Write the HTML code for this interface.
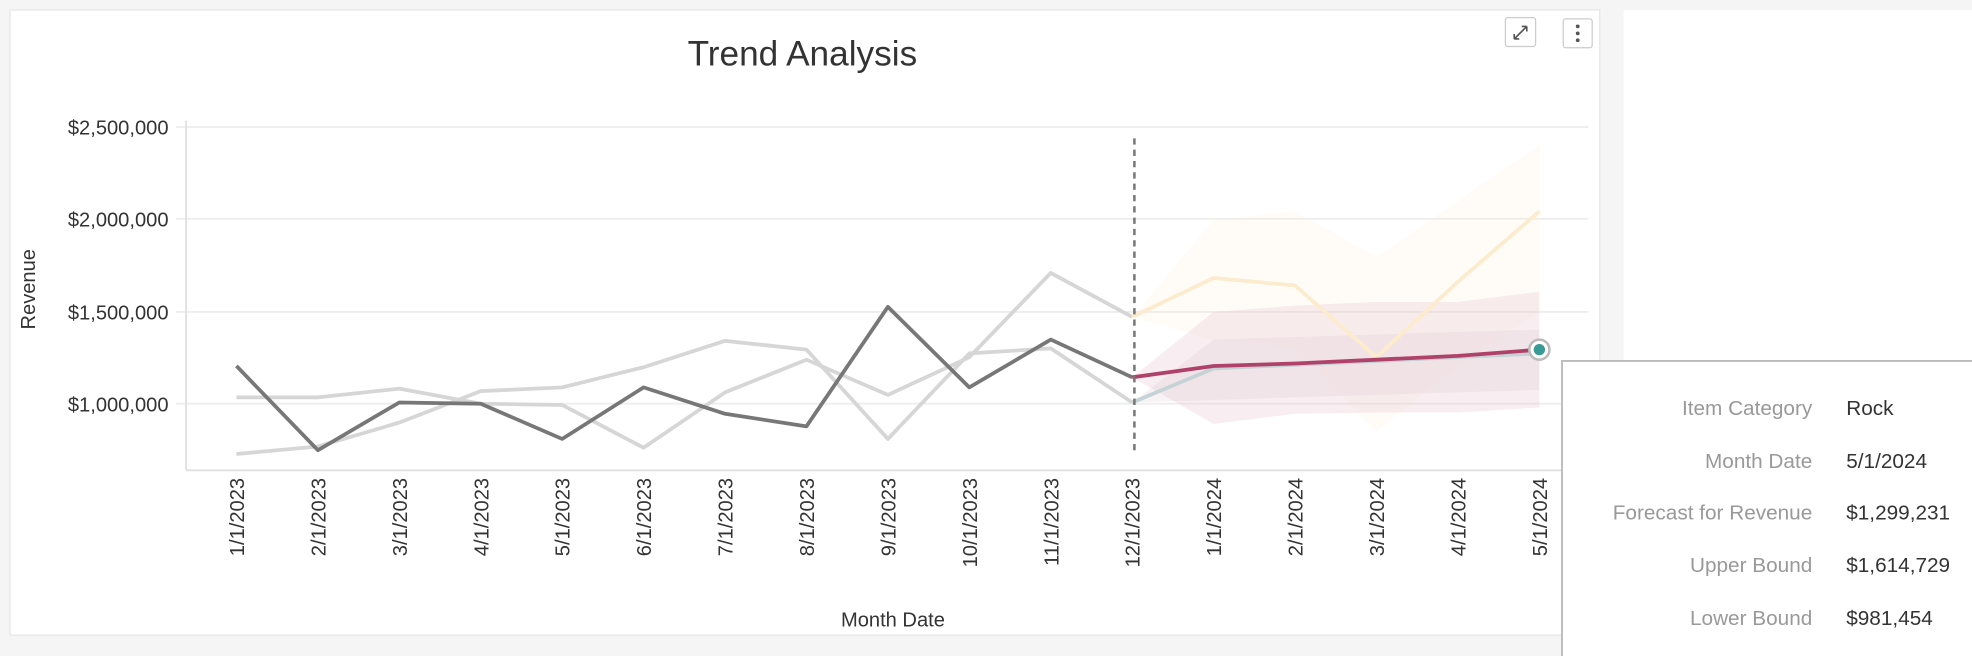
<!DOCTYPE html>
<html><head><meta charset="utf-8"><style>
html,body{margin:0;padding:0;background:#f5f5f5;}
svg{display:block;font-family:"Liberation Sans",sans-serif;}
</style></head><body>
<svg width="1972" height="656" viewBox="0 0 1568 521.6" preserveAspectRatio="none">
<rect x="0" y="0" width="1568" height="521.6" fill="#f5f5f5"/>
<rect x="1291" y="8" width="277" height="514" fill="#ffffff"/>
<rect x="8" y="8" width="1264" height="497" fill="#ffffff" stroke="#e6e6e6" stroke-width="1"/>
<text x="638" y="52" font-size="28" text-anchor="middle" fill="#333">Trend Analysis</text>
<rect x="1197" y="14" width="24" height="23" rx="2" fill="#fff" stroke="#ccc"/>
<path d="M1204 31 L1214 21 M1204 31 h4 M1204 31 v-4 M1214 21 h-4 M1214 21 v4" stroke="#555" stroke-width="1.3" fill="none"/>
<rect x="1243" y="15" width="23" height="23" rx="2" fill="#fff" stroke="#ccc"/>
<circle cx="1254.5" cy="21" r="1.5" fill="#555"/><circle cx="1254.5" cy="26.5" r="1.5" fill="#555"/><circle cx="1254.5" cy="32" r="1.5" fill="#555"/>
<g stroke="#eeeeee" stroke-width="1.5">
<line x1="140" y1="101" x2="1263" y2="101"/><line x1="140" y1="174" x2="1263" y2="174"/>
<line x1="140" y1="248" x2="1263" y2="248"/><line x1="140" y1="321" x2="1263" y2="321"/>
</g>
<line x1="148" y1="96" x2="148" y2="374" stroke="#e0e0e0" stroke-width="1.5"/>
<line x1="148" y1="374" x2="1263" y2="374" stroke="#e0e0e0" stroke-width="1.5"/>
<g font-size="16" fill="#333" text-anchor="end">
<text x="134" y="107">$2,500,000</text><text x="134" y="180">$2,000,000</text>
<text x="134" y="254">$1,500,000</text><text x="134" y="327">$1,000,000</text>
</g>
<text transform="translate(28,230) rotate(-90)" font-size="16" fill="#333" text-anchor="middle">Revenue</text>
<text x="710" y="498" font-size="16" fill="#333" text-anchor="middle">Month Date</text>
<polygon points="900.25,252 965,175 1029.75,168 1094.5,204 1159.25,160 1224,115 1224,248 1159.25,291 1094.5,343 1029.75,277 965,270" fill="#fbe9c8" opacity="0.12"/>
<polygon points="900.25,300 965,248 1029.75,243 1094.5,240 1159.25,240 1224,232 1224,324 1159.25,328 1094.5,328 1029.75,329 965,337" fill="#e8c3cd" opacity="0.3"/>
<polygon points="900.25,320 965,270 1029.75,268 1094.5,266 1159.25,264 1224,262 1224,310 1159.25,312 1094.5,314 1029.75,316 965,318" fill="#d9c4cc" opacity="0.2"/>
<g fill="none" stroke-width="3" stroke-linejoin="round">
<polyline stroke="#d6d6d6" points="188,316 252.75,316 317.5,309 382.25,321 447,322 511.75,356 576.5,312 641.25,286 706,314 770.75,284 835.5,217 900.25,252"/>
<polyline stroke="#d6d6d6" points="188,361 252.75,355 317.5,336 382.25,311 447,308 511.75,292 576.5,271 641.25,278 706,349 770.75,281 835.5,277 900.25,320"/>
<polyline stroke="#fcebcc" points="900.25,252 965,221 1029.75,227 1094.5,284 1159.25,224 1224,168"/>
<polyline stroke="#c5d3d6" points="900.25,320 965,293 1029.75,290 1094.5,287 1159.25,284 1224,281"/>
<polyline stroke="#777777" points="188,291 252.75,358 317.5,320 382.25,321 447,349 511.75,308 576.5,329 641.25,339 706,244 770.75,308 835.5,270 900.25,300"/>
<polyline stroke="#b0426a" points="900.25,300 965,291 1029.75,289 1094.5,286 1159.25,283 1224,278"/>
</g>
<line x1="902" y1="110" x2="902" y2="362" stroke="#777" stroke-width="2" stroke-dasharray="5,4"/>
<circle cx="1224" cy="278" r="8" fill="#fff" stroke="#bbb" stroke-width="2"/>
<circle cx="1224" cy="278" r="4.5" fill="#3a9a96"/>
<g font-size="16" fill="#333" text-anchor="end">
<text transform="translate(194,380) rotate(-90)">1/1/2023</text>
<text transform="translate(258.75,380) rotate(-90)">2/1/2023</text>
<text transform="translate(323.5,380) rotate(-90)">3/1/2023</text>
<text transform="translate(388.25,380) rotate(-90)">4/1/2023</text>
<text transform="translate(453,380) rotate(-90)">5/1/2023</text>
<text transform="translate(517.75,380) rotate(-90)">6/1/2023</text>
<text transform="translate(582.5,380) rotate(-90)">7/1/2023</text>
<text transform="translate(647.25,380) rotate(-90)">8/1/2023</text>
<text transform="translate(712,380) rotate(-90)">9/1/2023</text>
<text transform="translate(776.75,380) rotate(-90)">10/1/2023</text>
<text transform="translate(841.5,380) rotate(-90)">11/1/2023</text>
<text transform="translate(906.25,380) rotate(-90)">12/1/2023</text>
<text transform="translate(971,380) rotate(-90)">1/1/2024</text>
<text transform="translate(1035.75,380) rotate(-90)">2/1/2024</text>
<text transform="translate(1100.5,380) rotate(-90)">3/1/2024</text>
<text transform="translate(1165.25,380) rotate(-90)">4/1/2024</text>
<text transform="translate(1230,380) rotate(-90)">5/1/2024</text>
</g>
<rect x="1242" y="287" width="330" height="240" fill="#fff" stroke="#bbb" stroke-width="1.5"/>
<g font-size="16.5" fill="#999" text-anchor="end">
<text x="1441" y="330">Item Category</text><text x="1441" y="372">Month Date</text>
<text x="1441" y="413">Forecast for Revenue</text><text x="1441" y="455">Upper Bound</text>
<text x="1441" y="497">Lower Bound</text>
</g>
<g font-size="16.5" fill="#333">
<text x="1468" y="330">Rock</text><text x="1468" y="372">5/1/2024</text>
<text x="1468" y="413">$1,299,231</text><text x="1468" y="455">$1,614,729</text>
<text x="1468" y="497">$981,454</text>
</g>
</svg>
</body></html>
